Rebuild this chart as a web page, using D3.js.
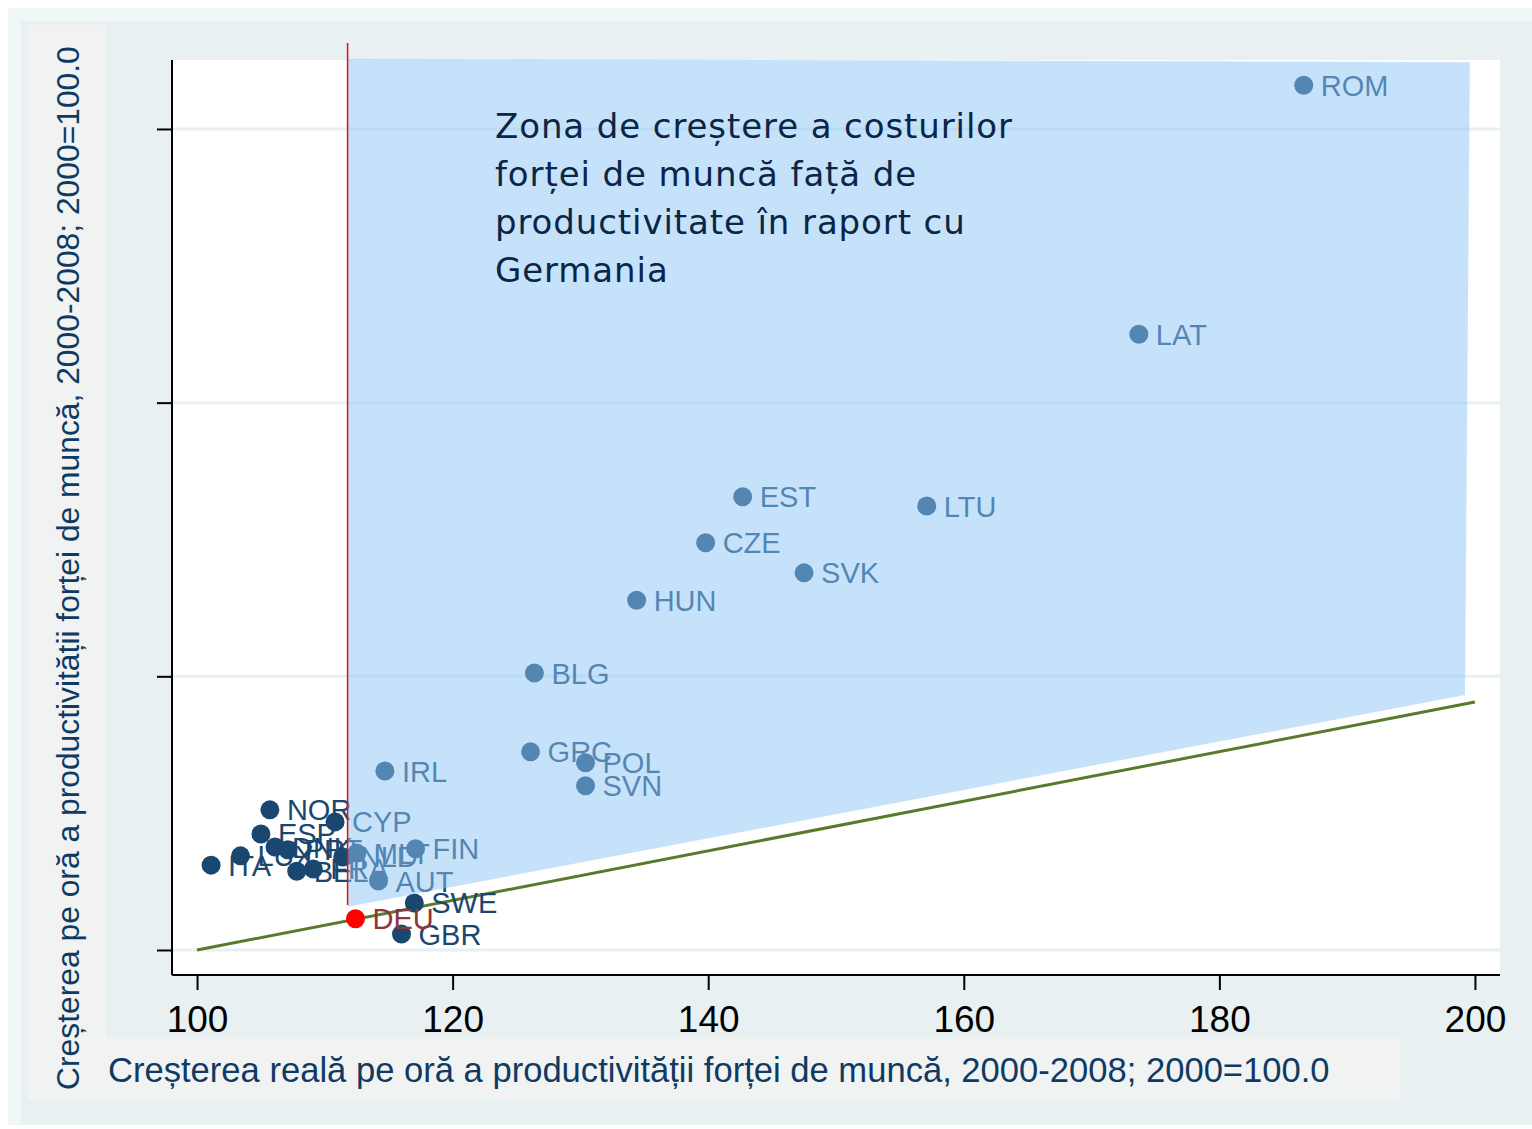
<!DOCTYPE html>
<html>
<head>
<meta charset="utf-8">
<script src="https://cdn.jsdelivr.net/npm/d3@7"></script>
<style>
  body { margin: 0; background: #fff; }
  svg { display: block; }
</style>
</head>
<body>
<svg></svg>
<script>
// country codes and values (x = productivity growth, y = labour cost growth)
let countries = ["ROM","LAT","EST","LTU","CZE","SVK","HUN","BLG","GRC","POL","SVN","IRL",
                 "NOR","CYP","ESP","FIN","AUT","SWE","GBR","ITA","LUX","DNK","PRT","BEL",
                 "FRA","NLD","MLT","DEU"];
let prodValues = [186.6,173.7,142.7,157.1,139.8,147.5,134.4,126.4,126.1,130.4,130.4,114.7,
                  105.7,110.8,105.0,117.1,114.2,117.0,116.0,101.1,103.4,106.1,107.1,107.8,
                  109.1,111.4,112.5,112.4];
let costValues = [258.0,212.5,182.8,181.1,174.4,168.9,163.9,150.6,136.2,134.2,130.0,132.7,
                  125.6,123.4,121.2,118.5,112.6,108.6,102.9,115.5,117.2,118.8,118.3,114.4,
                  114.8,117.0,117.7,105.7];

let xTicks = [100, 120, 140, 160, 180, 200];
let yTicks = [100, 150, 200, 250];

// zone where labour costs grow faster than productivity, relative to Germany
let zoneX = [111.78, 199.6, 199.22, 111.78];
let zoneY = [262.8, 262.2, 146.6, 107.9];
let refLineX = [100, 200];
let refLineY = [100, 145.3];
let deuLineX = 111.78;
let deuLineY = [265.7, 108.2];

let width = 1532, height = 1129;
let pLeft = 172, pRight = 1500, pTop = 60, pBottom = 975;

let svg = d3.select("svg")
    .attr("width", width)
    .attr("height", height);

// backgrounds
svg.append("rect").attr("x", 8).attr("y", 8).attr("width", width - 8).attr("height", height - 12)
    .attr("fill", "#eff7f6");
svg.append("rect").attr("x", 21).attr("y", 21).attr("width", width - 21).attr("height", 1104)
    .attr("fill", "#e8f0f2");
svg.append("rect").attr("x", 28).attr("y", 25).attr("width", 78).attr("height", 1075)
    .attr("fill", "#f1f2f2");
svg.append("rect").attr("x", 106).attr("y", 1038).attr("width", 1294).attr("height", 62)
    .attr("fill", "#f1f2f2");
svg.append("rect").attr("x", pLeft).attr("y", pTop).attr("width", pRight - pLeft).attr("height", pBottom - pTop)
    .attr("fill", "#ffffff");

let x = d3.scaleLinear().domain([98.04, 201.96]).range([pLeft, pRight]);
let y = d3.scaleLinear().domain([95.43, 262.6]).range([pBottom, pTop]);

// gridlines
svg.append("g")
    .selectAll("line")
    .data(yTicks)
    .enter()
    .append("line")
    .attr("x1", pLeft).attr("x2", pRight)
    .attr("y1", d => y(d)).attr("y2", d => y(d))
    .attr("stroke", "#e8f0f2")
    .attr("stroke-width", 3);

// reference line through Germany
svg.append("line")
    .attr("x1", x(refLineX[0])).attr("y1", y(refLineY[0]))
    .attr("x2", x(refLineX[1])).attr("y2", y(refLineY[1]))
    .attr("stroke", "#587a2c")
    .attr("stroke-width", 3);

let pts = countries.map((c, i) => ({name: c, px: prodValues[i], py: costValues[i]}));

let marks = svg.append("g");
marks.selectAll("circle")
    .data(pts)
    .enter()
    .append("circle")
    .attr("cx", d => x(d.px))
    .attr("cy", d => y(d.py))
    .attr("r", 9.5)
    .attr("fill", d => d.name == "DEU" ? "#ff0000" : "#1a476f");

marks.selectAll("text")
    .data(pts)
    .enter()
    .append("text")
    .attr("x", d => x(d.px) + 17)
    .attr("y", d => y(d.py) + 10.5)
    .attr("font-family", "Liberation Sans, Arial, sans-serif")
    .attr("font-size", 29)
    .attr("fill", d => d.name == "DEU" ? "#90353b" : "#1a476f")
    .text(d => d.name);

// translucent zone on top
svg.append("polygon")
    .attr("points", zoneX.map((v, i) => x(v) + "," + y(zoneY[i])).join(" "))
    .attr("fill", "rgb(141,197,247)")
    .attr("fill-opacity", 0.5);

svg.append("line")
    .attr("x1", x(deuLineX)).attr("x2", x(deuLineX))
    .attr("y1", y(deuLineY[0])).attr("y2", y(deuLineY[1]))
    .attr("stroke", "#e01010")
    .attr("stroke-width", 1.5);

// axes
let xAxis = svg.append("g")
    .attr("transform", "translate(0," + pBottom + ")")
    .call(d3.axisBottom(x).tickValues(xTicks).tickSize(15).tickPadding(16));
xAxis.select(".domain").attr("d", "M" + pLeft + ",0H" + pRight).attr("stroke-width", 2);
xAxis.selectAll(".tick line").attr("stroke-width", 2);
xAxis.selectAll("text")
    .attr("font-family", "Liberation Sans, Arial, sans-serif")
    .attr("font-size", 37)
    .attr("fill", "#000");

let yAxis = svg.append("g")
    .attr("transform", "translate(" + pLeft + ",0)")
    .call(d3.axisLeft(y).tickValues(yTicks).tickSize(15).tickFormat(""));
yAxis.select(".domain").attr("d", "M0," + pBottom + "V" + pTop).attr("stroke-width", 2);
yAxis.selectAll(".tick line").attr("stroke-width", 2);

// axis titles
svg.append("text")
    .attr("x", 108)
    .attr("y", 1082)
    .attr("font-family", "Liberation Sans, Arial, sans-serif")
    .attr("font-size", 34.6)
    .attr("fill", "#0f3a63")
    .text("Creșterea reală pe oră a productivității forței de muncă, 2000-2008; 2000=100.0");

svg.append("text")
    .attr("transform", "translate(79,1090) rotate(-90)")
    .attr("font-family", "Liberation Sans, Arial, sans-serif")
    .attr("font-size", 31.8)
    .attr("fill", "#0f3a63")
    .text("Creșterea pe oră a productivității forței de muncă, 2000-2008; 2000=100.0");

// annotation
let note = ["Zona de creștere a costurilor", "forței de muncă față de",
            "productivitate în raport cu", "Germania"];
svg.append("g")
    .selectAll("text")
    .data(note)
    .enter()
    .append("text")
    .attr("x", 495)
    .attr("y", (d, i) => 138 + i * 48)
    .attr("font-family", "DejaVu Sans, sans-serif")
    .attr("font-size", 34)
    .attr("letter-spacing", 0.9)
    .attr("fill", "#0b2545")
    .text(d => d);
</script>
</body>
</html>
